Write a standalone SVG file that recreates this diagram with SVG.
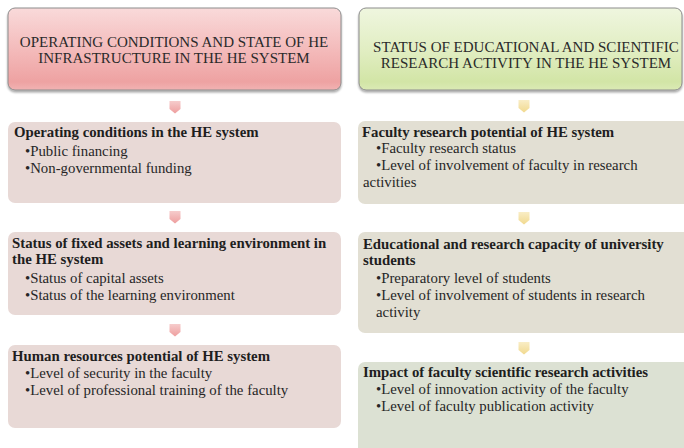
<svg xmlns="http://www.w3.org/2000/svg" width="684" height="448" viewBox="0 0 684 448">
<defs>
<linearGradient id="gPink" x1="0" y1="0" x2="0" y2="1">
<stop offset="0" stop-color="#f9dada"/>
<stop offset="0.55" stop-color="#f3b8b8"/>
<stop offset="0.9" stop-color="#eea2a2"/>
<stop offset="1" stop-color="#f1b3b3"/>
</linearGradient>
<linearGradient id="gGreen" x1="0" y1="0" x2="0" y2="1">
<stop offset="0" stop-color="#eff6df"/>
<stop offset="0.55" stop-color="#e0edc0"/>
<stop offset="0.9" stop-color="#d2e5a6"/>
<stop offset="1" stop-color="#dbeab5"/>
</linearGradient>
<linearGradient id="gArrowPink" x1="0" y1="0" x2="0" y2="1">
<stop offset="0" stop-color="#f6cccc"/>
<stop offset="1" stop-color="#ee9e9e"/>
</linearGradient>
<linearGradient id="gArrowYellow" x1="0" y1="0" x2="0" y2="1">
<stop offset="0" stop-color="#f9edc6"/>
<stop offset="1" stop-color="#f1d98e"/>
</linearGradient>
<filter id="sh" x="-5%" y="-10%" width="110%" height="125%">
<feGaussianBlur in="SourceAlpha" stdDeviation="1.2"/>
<feOffset dx="0" dy="1.5" result="b"/>
<feComponentTransfer><feFuncA type="linear" slope="0.35"/></feComponentTransfer>
<feMerge><feMergeNode/><feMergeNode in="SourceGraphic"/></feMerge>
</filter>
</defs>
<style>
.hdr{stroke:#8c8c8c;stroke-width:1}
.ttl{font-size:15px;fill:#2a2a2a;text-anchor:middle}
.bt{font-size:14.8px;font-weight:bold;fill:#1e1e1e}
.tx{font-size:14.8px;fill:#262626}
.bl{fill:#e8d9d6}
.br{fill:#e2dfd3}
.bg{fill:#dce1d3}
</style>
<rect width="684" height="448" fill="#ffffff"/>

<g id="connectors">
<path d="M169.5,101 L180.5,101 L180.5,109 L175,113.5 L169.5,109 Z" fill="url(#gArrowPink)"/>
<path d="M169.5,211 L180.5,211 L180.5,219 L175,223.5 L169.5,219 Z" fill="url(#gArrowPink)"/>
<path d="M169.5,324 L180.5,324 L180.5,332 L175,336.5 L169.5,332 Z" fill="url(#gArrowPink)"/>
<path d="M518.5,100 L529.5,100 L529.5,108 L524,112.5 L518.5,108 Z" fill="url(#gArrowYellow)"/>
<path d="M518.5,212 L529.5,212 L529.5,220 L524,224.5 L518.5,220 Z" fill="url(#gArrowYellow)"/>
<path d="M518.5,342 L529.5,342 L529.5,350 L524,354.5 L518.5,350 Z" fill="url(#gArrowYellow)"/>
</g>

<g font-family="'Liberation Serif', 'Times New Roman', serif">
<g id="header-left">
<rect class="hdr" x="8" y="8" width="333" height="82" rx="7" fill="url(#gPink)" filter="url(#sh)"/>
<text class="ttl" x="174" y="47">OPERATING CONDITIONS AND STATE OF HE</text>
<text class="ttl" x="174" y="63">INFRASTRUCTURE IN THE HE SYSTEM</text>
</g>

<g id="header-right">
<rect class="hdr" x="359" y="8" width="323" height="82" rx="7" fill="url(#gGreen)" filter="url(#sh)"/>
<text class="ttl" x="526" y="52">STATUS OF EDUCATIONAL AND SCIENTIFIC</text>
<text class="ttl" x="526" y="68">RESEARCH ACTIVITY IN THE HE SYSTEM</text>
</g>

<g id="left-box-1">
<rect class="bl" x="8" y="122" width="333" height="81" rx="7"/>
<text class="bt" x="14" y="137">Operating conditions in the HE system</text>
<text class="tx" x="25" y="156">•Public financing</text>
<text class="tx" x="25" y="173">•Non-governmental funding</text>
</g>

<g id="left-box-2">
<rect class="bl" x="8" y="232" width="333" height="83" rx="7"/>
<text class="bt" x="12" y="248">Status of fixed assets and learning environment in</text>
<text class="bt" x="12" y="264">the HE system</text>
<text class="tx" x="25" y="283">•Status of capital assets</text>
<text class="tx" x="25" y="300">•Status of the learning environment</text>
</g>

<g id="left-box-3">
<rect class="bl" x="8" y="345" width="333" height="83" rx="7"/>
<text class="bt" x="12" y="361">Human resources potential of HE system</text>
<text class="tx" x="25" y="378">•Level of security in the faculty</text>
<text class="tx" x="25" y="395">•Level of professional training of the faculty</text>
</g>

<g id="right-box-1">
<rect class="br" x="358" y="121" width="336" height="83" rx="7"/>
<text class="bt" x="362" y="137">Faculty research potential of HE system</text>
<text class="tx" x="376" y="153">•Faculty research status</text>
<text class="tx" x="376" y="170">•Level of involvement of faculty in research</text>
<text class="tx" x="363" y="187">activities</text>
</g>

<g id="right-box-2">
<rect class="br" x="358" y="232" width="336" height="101" rx="7"/>
<text class="bt" x="363" y="249">Educational and research capacity of university</text>
<text class="bt" x="363" y="265">students</text>
<text class="tx" x="376" y="283">•Preparatory level of students</text>
<text class="tx" x="376" y="300">•Level of involvement of students in research</text>
<text class="tx" x="376" y="317">activity</text>
</g>

<g id="right-box-3">
<rect class="bg" x="358" y="362" width="336" height="100" rx="7"/>
<text class="bt" x="363" y="377">Impact of faculty scientific research activities</text>
<text class="tx" x="376" y="394">•Level of innovation activity of the faculty</text>
<text class="tx" x="376" y="411">•Level of faculty publication activity</text>
</g>
</g>
</svg>
